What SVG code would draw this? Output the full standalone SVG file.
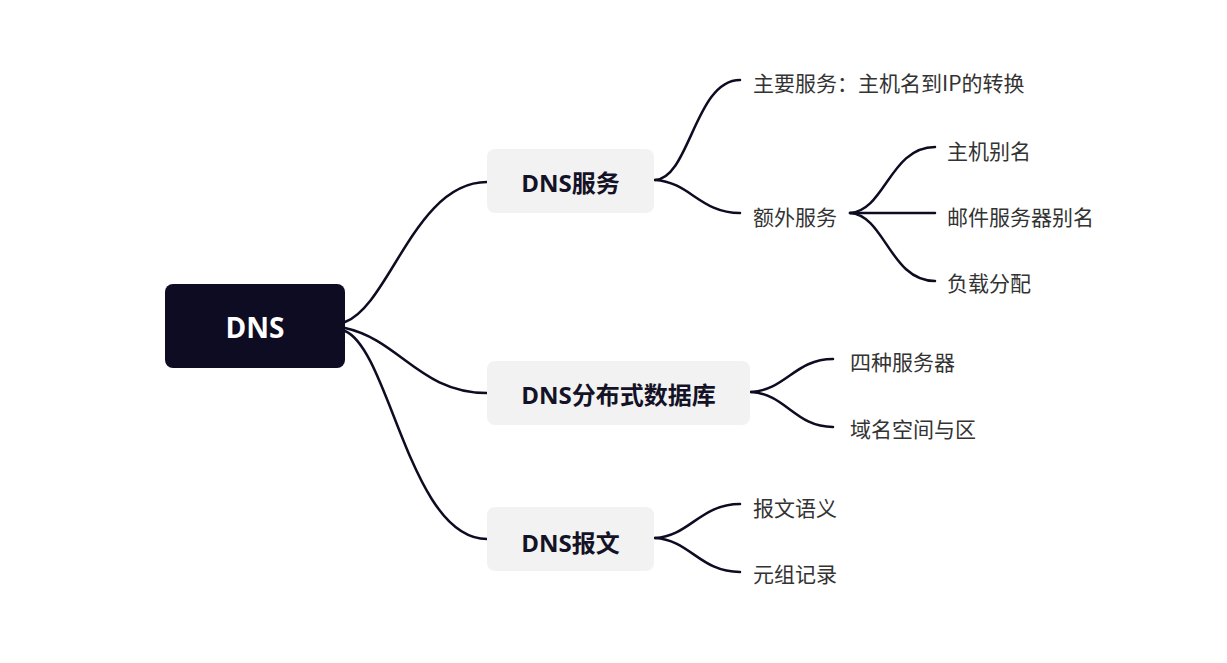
<svg xmlns="http://www.w3.org/2000/svg" width="1227" height="663" viewBox="0 0 1227 663">
<style>
.bg{fill:#ffffff}
.root{fill:#0e0c22}
.branch{fill:#f2f2f2}
.rt{font-family:"Open Sans","Noto Sans CJK SC",sans-serif;font-weight:700;font-size:28px;fill:#ffffff;text-anchor:middle}
.bt{font-family:"Open Sans","Noto Sans CJK SC",sans-serif;font-weight:700;font-size:24px;fill:#141226;text-anchor:middle}
.lt{font-family:"Noto Sans CJK SC",sans-serif;font-size:21px;fill:#333333}
.c{fill:none;stroke:#0e0c22;stroke-width:2.5;stroke-linecap:round}
</style>
<rect class="bg" x="0" y="0" width="1227" height="663"/>
<g id="connectors">
<path class="c" d="M345,322 C390,305 415,182 487,182"/>
<path class="c" d="M345,328 C400,340 420,393 487,393"/>
<path class="c" d="M345,331 C390,350 410,539 487,539"/>
<path class="c" d="M655,180 C690,178 695,80 740,80"/>
<path class="c" d="M655,180 C690,182 700,213 740,213"/>
<path class="c" d="M850,213 C885,211 890,147 935,147"/>
<path class="c" d="M850,213 L935,213"/>
<path class="c" d="M850,213 C885,215 890,281 935,281"/>
<path class="c" d="M751,392 C786,390 795,359 833,359"/>
<path class="c" d="M751,392 C786,394 795,427 833,427"/>
<path class="c" d="M655,538 C690,536 700,504 740,504"/>
<path class="c" d="M655,538 C690,540 700,572 740,572"/>
</g>
<g id="node-dns">
<rect class="root" x="165" y="284" width="180" height="84" rx="8"/>
<text class="rt" x="255" y="338">DNS</text>
</g>
<g id="node-service">
<rect class="branch" x="487" y="149" width="167" height="64" rx="8"/>
<text class="bt" x="570.5" y="192">DNS服务</text>
</g>
<g id="node-db">
<rect class="branch" x="487" y="361" width="263" height="64" rx="8"/>
<text class="bt" x="618.5" y="404">DNS分布式数据库</text>
</g>
<g id="node-msg">
<rect class="branch" x="487" y="507" width="167" height="64" rx="8"/>
<text class="bt" x="570.5" y="552">DNS报文</text>
</g>
<g id="node-main"><text class="lt" x="753" y="91">主要服务：主机名到IP的转换</text></g>
<g id="node-extra"><text class="lt" x="753" y="225">额外服务</text></g>
<g id="node-alias"><text class="lt" x="947" y="159">主机别名</text></g>
<g id="node-mail"><text class="lt" x="947" y="225">邮件服务器别名</text></g>
<g id="node-load"><text class="lt" x="947" y="291">负载分配</text></g>
<g id="node-four"><text class="lt" x="850" y="370">四种服务器</text></g>
<g id="node-zone"><text class="lt" x="850" y="437">域名空间与区</text></g>
<g id="node-sem"><text class="lt" x="753" y="516">报文语义</text></g>
<g id="node-rec"><text class="lt" x="753" y="582">元组记录</text></g>
</svg>
